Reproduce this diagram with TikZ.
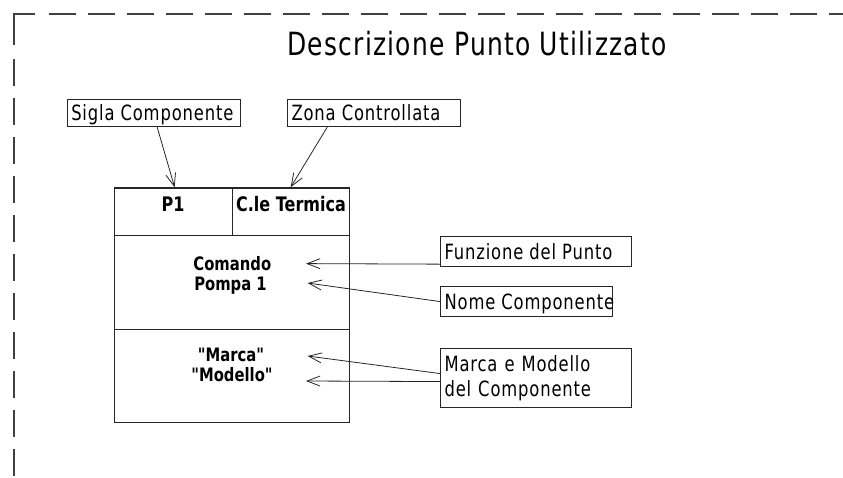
\documentclass[tikz,border=0pt]{standalone}
\usepackage{fontspec}
\newfontfamily\cad[FakeStretch=0.78,LetterSpace=4.0,BoldFeatures={FakeStretch=0.8,LetterSpace=0.0}]{DejaVu Sans}
\usetikzlibrary{arrows.meta}
\begin{document}
\begin{tikzpicture}[x=1pt,y=-1pt,
  border/.style={draw=black!75,line width=1.1pt},
  cell/.style={draw=black!85,line width=1.3pt,anchor=north west,inner sep=0pt},
  lbl/.style={draw=black!85,line width=1.1pt,anchor=north west,inner xsep=4pt,inner ysep=0pt,
    font=\cad\fontsize{21}{25}\selectfont,text height=15.3pt,text depth=0pt},
  bold/.style={anchor=base,inner sep=0pt,font=\cad\bfseries\fontsize{18.5}{20}\selectfont},
  boldtop/.style={anchor=base,inner sep=0pt,font=\cad\bfseries\fontsize{20}{22}\selectfont},
  arr/.style={draw=black!85,line width=0.8pt,-{Straight Barb[length=13pt,width=10pt]}}]
\useasboundingbox (0,0) rectangle (843,477);
% dashed frame
\draw[border] (14,45) -- (14,14) -- (35,14);
\draw[border,dash pattern=on 26.5pt off 12.5pt] (14,59) -- (14,477);
\draw[border,dash pattern=on 26.5pt off 12.5pt] (49,14) -- (843,14);
% title
\node[anchor=base west,inner sep=0pt,font=\cad\fontsize{32}{36}\selectfont] (title) at (287,55) {Descrizione Punto Utilizzato};
% label boxes
\node[lbl,minimum height=26.7pt] (sigla) at (66.7,99.3) {\makebox[164.8pt][l]{Sigla Componente}};
\node[lbl,minimum height=26.7pt] (zona) at (287,99.3) {\makebox[165pt][l]{Zona Controllata}};
\node[lbl,minimum height=30.4pt] (funz) at (440,235.6) {\makebox[183pt][l]{Funzione del Punto}};
\node[lbl,minimum height=30pt] (nome) at (440,286) {\makebox[164pt][l]{Nome Componente}};
\node[lbl,minimum height=58.4pt,text height=,text depth=,align=left,text width=183pt] (marca) at (440,348.3) {Marca e Modello\\del Componente};
% main table
\node[cell,minimum width=118pt,minimum height=47.7pt] (p1cell) at (114,187.3) {};
\node[cell,minimum width=117pt,minimum height=47.7pt] (clecell) at (232,187.3) {};
\node[cell,minimum width=235pt,minimum height=94pt] (funcell) at (114,235) {};
\node[cell,minimum width=235pt,minimum height=93pt] (marcell) at (114,329) {};
% cell texts
\node[boldtop] (p1) at (173,211.7) {P1};
\node[boldtop] (cle) at (291,211.7) {C.le Termica};
\node[bold] (comando) at (232.3,270) {Comando};
\node[bold] (pompa) at (230.5,290) {Pompa 1};
\node[bold] (marcat) at (231,361.7) {"Marca"};
\node[bold] (modello) at (232,381.7) {"Modello"};
% arrow tips
\coordinate (tF) at (306,263.6);
\coordinate (tN) at (307.6,283);
\coordinate (tM1) at (307.6,356);
\coordinate (tM2) at (306,381);
% connectors
\draw[arr] ([xshift=3.5pt]sigla.south) -- ([xshift=1pt]p1cell.north);
\draw[arr] ([xshift=-46.8pt]zona.south) -- ([xshift=-0.5pt]clecell.north);
\draw[arr] ([yshift=-12.8pt]funz.west) -- (tF);
\draw[arr] (nome.west) -- (tN);
\draw[arr] ([yshift=4.5pt]marca.west) -- (tM1);
\draw[arr] ([yshift=-3.5pt]marca.west) -- (tM2);
\end{tikzpicture}
\end{document}
